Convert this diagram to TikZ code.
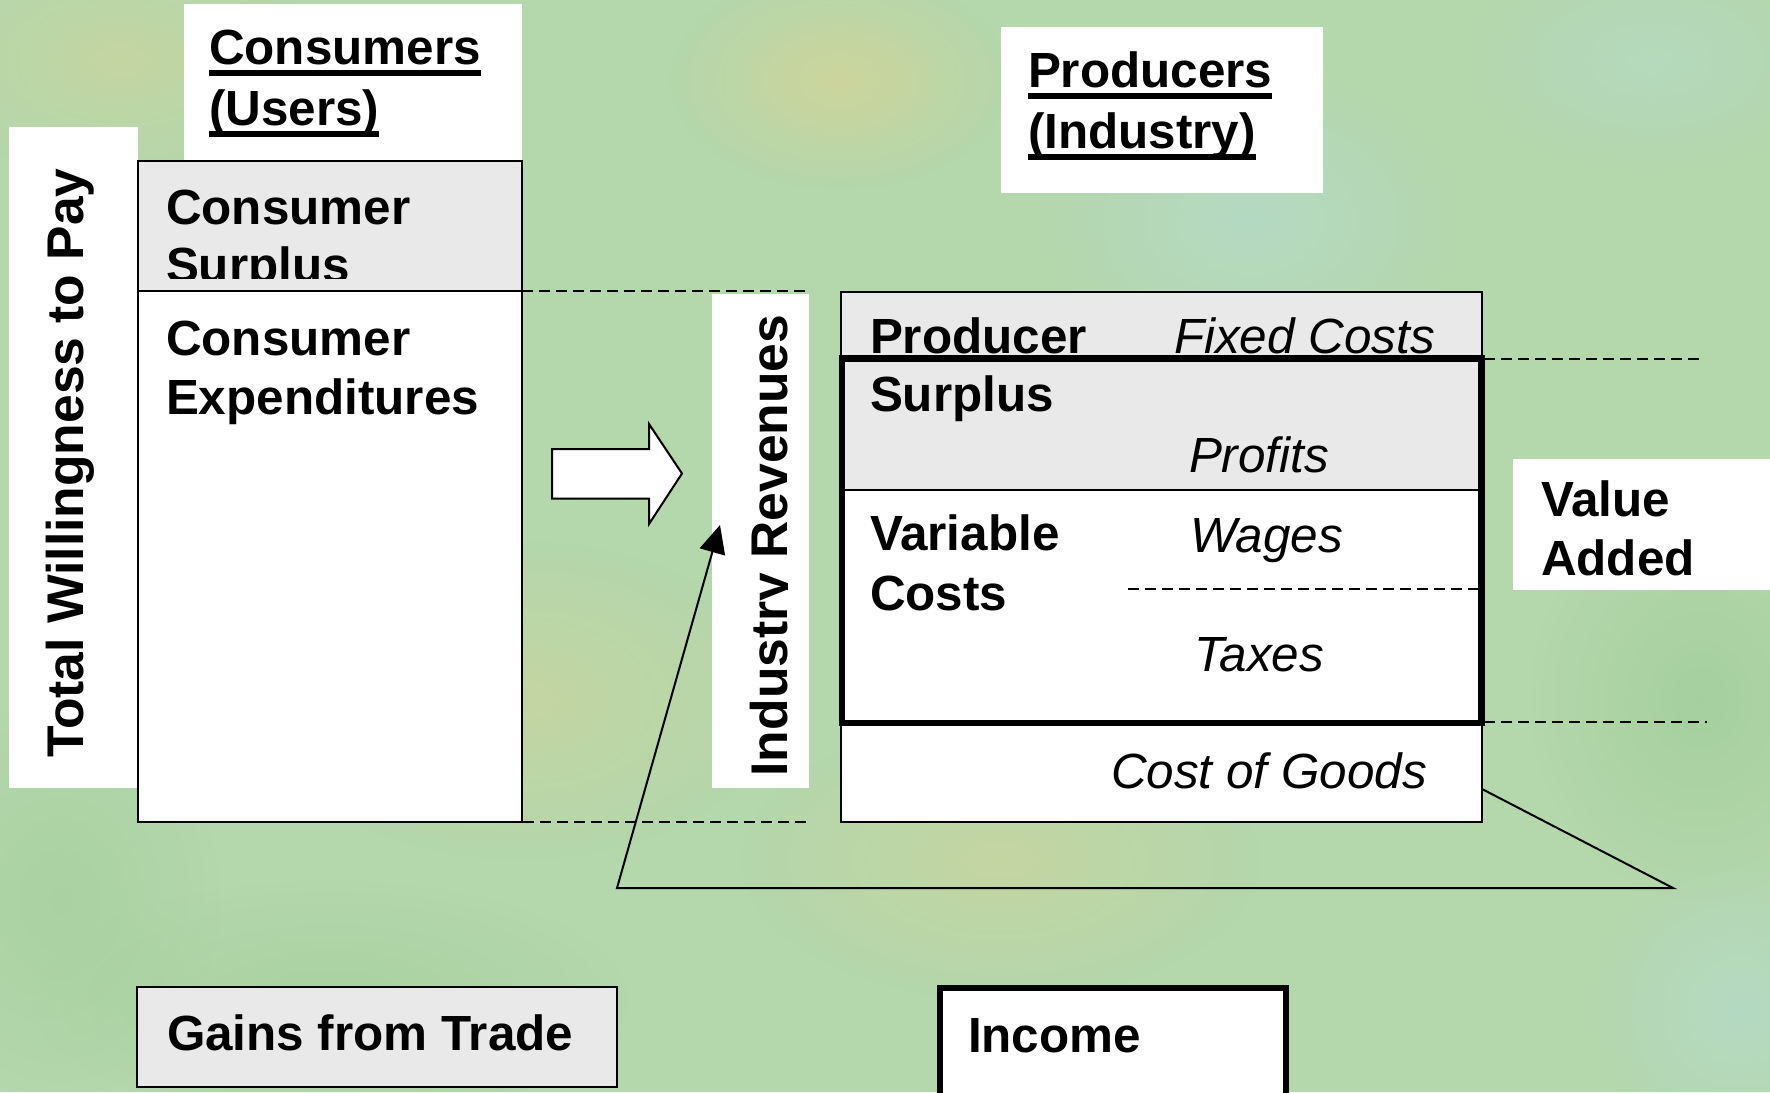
\documentclass[tikz,border=0pt]{standalone}
\usepackage{fontspec}
\setmainfont{Liberation Sans}
\usetikzlibrary{arrows.meta,fadings}
\definecolor{bg}{HTML}{B4D7AC}
\definecolor{boxgrey}{HTML}{E9E9E9}
\definecolor{blobyellow}{HTML}{E2D38E}
\definecolor{blobblue}{HTML}{B5DCD2}
\definecolor{blobgreen}{HTML}{9CCB95}
\tikzfading[name=softblob, inner color=transparent!0, outer color=transparent!100]
\newcommand\ulin[1]{\setbox0\hbox{#1}\rlap{\rule[-5.8pt]{\wd0}{2.6pt}}\box0}
\newcommand\rbox[6]{\node[#2, rectangle, inner sep=0pt, outer sep=0pt, anchor=north west,
  minimum width={(#5-#3)*0.5pt}, minimum height={(#6-#4)*0.5pt}] (#1) at (#3,#4) {};}
\begin{document}
\begin{tikzpicture}[x=0.5pt,y=-0.5pt,
  lbl/.style={inner sep=0pt, outer sep=0pt, anchor=base west, align=left,
    font=\fontsize{24.7pt}{27pt}\selectfont\bfseries},
  ilbl/.style={inner sep=0pt, outer sep=0pt, anchor=base west,
    font=\fontsize{24.7pt}{27pt}\selectfont\itshape},
  vlbl/.style={inner sep=0pt, outer sep=0pt, anchor=base, rotate=90,
    font=\fontsize{25.8pt}{27pt}\selectfont\bfseries},
  whitebox/.style={fill=white},
  greybox/.style={fill=boxgrey, draw=black, line width=1pt},
  plainbox/.style={fill=white, draw=black, line width=1pt},
  thickbox/.style={draw=black, line width=3.3pt},
  dashline/.style={draw=black, line width=1pt, dash pattern=on 5.5pt off 3pt},
  thinline/.style={draw=black, line width=1pt},
  blob/.style={path fading=softblob}]
\useasboundingbox (0,0) rectangle (1770,1092);
\clip (0,0) rectangle (1770,1092);
% background
\fill[bg] (0,0) rectangle (1770,1092);
\fill[blobyellow, opacity=0.55, blob] (840,80) ellipse (170 and 110);
\fill[blobyellow, opacity=0.35, blob] (520,700) ellipse (260 and 160);
\fill[blobyellow, opacity=0.35, blob] (1000,860) ellipse (260 and 140);
\fill[blobyellow, opacity=0.35, blob] (120,60) ellipse (200 and 120);
\fill[blobblue, opacity=0.6, blob] (1250,220) ellipse (220 and 160);
\fill[blobblue, opacity=0.6, blob] (1740,1010) ellipse (160 and 160);
\fill[blobblue, opacity=0.45, blob] (1650,60) ellipse (200 and 120);
\fill[blobgreen, opacity=0.6, blob] (1700,700) ellipse (170 and 200);
\fill[blobgreen, opacity=0.45, blob] (330,1000) ellipse (300 and 120);
\fill[blobgreen, opacity=0.45, blob] (60,900) ellipse (160 and 200);

% white label boxes
\rbox{twpbox}{whitebox}{9}{127}{138}{788}
\rbox{usersbox}{whitebox}{184}{4}{522}{160}
\rbox{irbox}{whitebox}{712}{294}{809}{788}
\rbox{indbox}{whitebox}{1001}{27}{1323}{193}
\rbox{vabox}{whitebox}{1513}{459}{1770}{590}

% consumer side
\rbox{csbox}{greybox}{138}{161}{522}{291}
\rbox{cebox}{plainbox}{138}{291}{522}{822}

% producer side
\rbox{prodbox}{plainbox}{841}{292}{1482}{822}
\rbox{fcbox}{greybox}{841}{292}{1482}{358.5}
\rbox{psbox}{greybox}{841}{358.5}{1482}{490}
\rbox{vcbox}{thickbox}{842}{358.5}{1481.5}{723}
\coordinate (wl) at (1128,589);
\coordinate (wr) at (1480,589);
\draw[dashline] (wl) -- (wr);

% bottom boxes
\rbox{gtbox}{greybox}{137}{987}{617}{1087}
\rbox{incbox}{thickbox,fill=white}{940}{988}{1286}{1110}

% dashed guide lines
\coordinate (d1a) at (522,291);  \coordinate (d1b) at (810,291);
\coordinate (d2a) at (489,822);  \coordinate (d2b) at (806,822);
\coordinate (d3a) at (1484,358.5); \coordinate (d3b) at (1702,358.5);
\coordinate (d4a) at (1484,722); \coordinate (d4b) at (1707,722);
\draw[dashline] (d1a) -- (d1b);
\draw[dashline] (d2a) -- (d2b);
\draw[dashline] (d3a) -- (d3b);
\draw[dashline] (d4a) -- (d4b);

% block arrow
\draw[fill=white, draw=black, line width=1pt, line join=miter]
  (552,449) -- (649,449) -- (649,424) -- (682,473.5) -- (649,524) -- (649,498.6) -- (552,498.6) -- cycle;

% flow line with arrow
\coordinate (f1) at (1482,789);
\coordinate (f2) at (1673,888);
\coordinate (f3) at (617,888);
\coordinate (f4) at (720,525);
\draw[thinline, line join=miter, -{Triangle[length=14pt,width=13pt]}] (f1) -- (f2) -- (f3) -- (f4);

% texts: consumers
\node[lbl] (tusers) at (209,64) {\ulin{Consumers}};
\node[lbl] (tusers2) at (209,125) {\ulin{(Users)}};
\node[lbl] (tcs1) at (166,224) {Consumer};
\begin{scope}
  \clip (138,161) rectangle (522,278);
  \node[lbl] (tcs2) at (166,282) {Surplus};
\end{scope}
\node[lbl] (tce1) at (166,355) {Consumer};
\node[lbl] (tce2) at (166,414) {Expenditures};
\node[vlbl] (ttwp) at (83,463) {Total Willingness to Pay};
\begin{scope}
  \clip (712,294) rectangle (787.5,788);
  \node[vlbl] (tir) at (787,545.5) {Industry Revenues};
\end{scope}

% texts: producers
\node[lbl] (tind1) at (1028,87) {\ulin{Producers}};
\node[lbl] (tind2) at (1028,148) {\ulin{(Industry)}};
\node[lbl] (tps1) at (870,353) {Producer};
\node[lbl] (tps2) at (870,411.5) {Surplus};
\node[ilbl] (tfc) at (1174,353) {Fixed Costs};
\node[ilbl] (tpr) at (1189,472) {Profits};
\node[lbl] (tvc1) at (870,550) {Variable};
\node[lbl] (tvc2) at (870,610) {Costs};
\node[ilbl] (twa) at (1190,552) {Wages};
\node[ilbl] (tta) at (1194,671) {Taxes};
\node[ilbl] (tcg) at (1111,788) {Cost of Goods};
\node[lbl] (tva1) at (1541,516) {Value};
\node[lbl] (tva2) at (1541,575) {Added};

% bottom texts
\node[lbl] (tgt) at (167,1050) {Gains from Trade};
\node[lbl] (tinc) at (968,1052) {Income};
\end{tikzpicture}
\end{document}
